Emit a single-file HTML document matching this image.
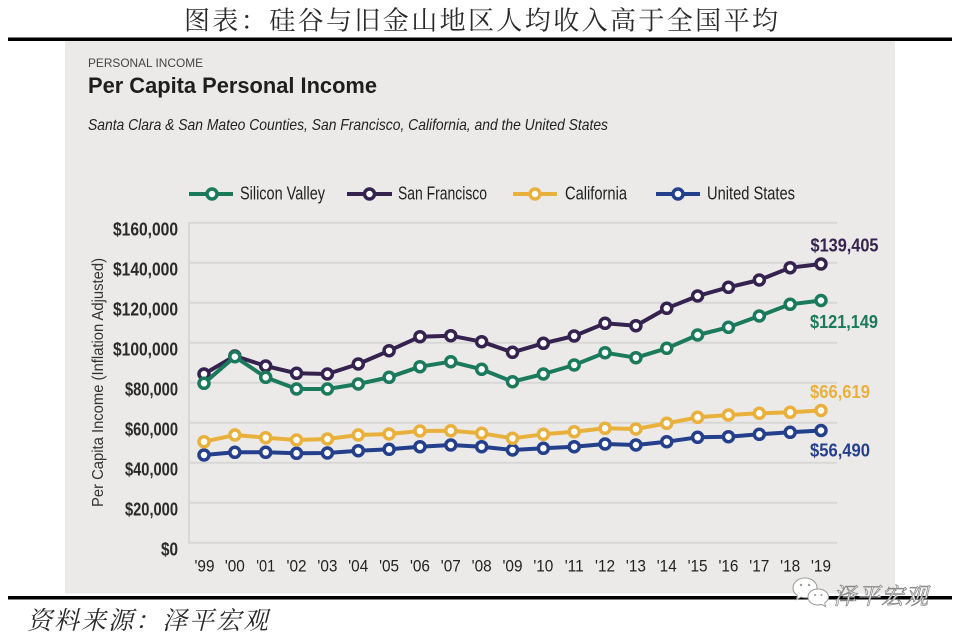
<!DOCTYPE html>
<html>
<head>
<meta charset="utf-8">
<style>
  html,body{margin:0;padding:0;background:#fff;}
  body{width:960px;height:636px;overflow:hidden;}
  svg{display:block;}
  .lat{font-family:"Liberation Sans",sans-serif;}
  .cjk{font-family:"Liberation Serif","Noto Serif CJK SC",serif;}
</style>
</head>
<body>
<svg width="960" height="636" viewBox="0 0 960 636" xmlns="http://www.w3.org/2000/svg">
  <rect x="0" y="0" width="960" height="636" fill="#ffffff"/>

  <!-- Chinese title -->
  <text class="cjk" x="184" y="29.5" font-size="26" fill="#2a2a2a" textLength="594" lengthAdjust="spacing">图表：硅谷与旧金山地区人均收入高于全国平均</text>

  <!-- top thick rule -->
  <rect x="8" y="37.5" width="944" height="3.5" fill="#000"/>

  <!-- gray panel -->
  <rect x="65" y="41" width="830" height="552.5" fill="#ebeae9"/>

  <!-- header texts -->
  <text class="lat" x="88" y="67" font-size="12" fill="#444" textLength="115" lengthAdjust="spacingAndGlyphs">PERSONAL INCOME</text>
  <text class="lat" x="88" y="93" font-size="22" font-weight="bold" fill="#1e1e1e" textLength="289" lengthAdjust="spacingAndGlyphs">Per Capita Personal Income</text>
  <text class="lat" x="88" y="130" font-size="16" font-style="italic" fill="#222" textLength="520" lengthAdjust="spacingAndGlyphs">Santa Clara &amp; San Mateo Counties, San Francisco, California, and the United States</text>

  <!-- legend -->
  <g stroke-width="4">
    <line x1="189" y1="194" x2="233" y2="194" stroke="#1b7a5c"/>
    <circle cx="212" cy="194" r="5" fill="#fff" stroke="#1b7a5c" stroke-width="3.5"/>
    <line x1="347" y1="194" x2="392" y2="194" stroke="#35224f"/>
    <circle cx="369.5" cy="194" r="5" fill="#fff" stroke="#35224f" stroke-width="3.5"/>
    <line x1="513" y1="194" x2="557" y2="194" stroke="#eab03c"/>
    <circle cx="535" cy="194" r="5" fill="#fff" stroke="#eab03c" stroke-width="3.5"/>
    <line x1="656" y1="194" x2="700" y2="194" stroke="#243f8c"/>
    <circle cx="678" cy="194" r="5" fill="#fff" stroke="#243f8c" stroke-width="3.5"/>
  </g>
  <g class="lat" font-size="18.5" fill="#222">
    <text x="240" y="199.5" textLength="85" lengthAdjust="spacingAndGlyphs">Silicon Valley</text>
    <text x="398" y="199.5" textLength="89" lengthAdjust="spacingAndGlyphs">San Francisco</text>
    <text x="565" y="199.5" textLength="62" lengthAdjust="spacingAndGlyphs">California</text>
    <text x="707" y="199.5" textLength="88" lengthAdjust="spacingAndGlyphs">United States</text>
  </g>

  <!-- gridlines -->
  <g stroke="#d8d7d5" stroke-width="2">
    <line x1="189" y1="222.7" x2="837" y2="222.7"/>
    <line x1="189" y1="262.7" x2="837" y2="262.7"/>
    <line x1="189" y1="302.7" x2="837" y2="302.7"/>
    <line x1="189" y1="342.7" x2="837" y2="342.7"/>
    <line x1="189" y1="382.7" x2="837" y2="382.7"/>
    <line x1="189" y1="422.7" x2="837" y2="422.7"/>
    <line x1="189" y1="462.7" x2="837" y2="462.7"/>
    <line x1="189" y1="502.7" x2="837" y2="502.7"/>
    <line x1="189" y1="542.7" x2="837" y2="542.7"/>
    <line x1="189" y1="222" x2="189" y2="543.5"/>
  </g>

  <!-- y labels -->
  <g class="lat" font-size="18" font-weight="bold" fill="#2a2a2a">
    <text x="113" y="235.7" textLength="65" lengthAdjust="spacingAndGlyphs">$160,000</text>
    <text x="113" y="275.7" textLength="65" lengthAdjust="spacingAndGlyphs">$140,000</text>
    <text x="113" y="315.7" textLength="65" lengthAdjust="spacingAndGlyphs">$120,000</text>
    <text x="113" y="355.7" textLength="65" lengthAdjust="spacingAndGlyphs">$100,000</text>
    <text x="125" y="395.7" textLength="53" lengthAdjust="spacingAndGlyphs">$80,000</text>
    <text x="125" y="435.7" textLength="53" lengthAdjust="spacingAndGlyphs">$60,000</text>
    <text x="125" y="475.7" textLength="53" lengthAdjust="spacingAndGlyphs">$40,000</text>
    <text x="125" y="515.7" textLength="53" lengthAdjust="spacingAndGlyphs">$20,000</text>
    <text x="161" y="555.7" textLength="17" lengthAdjust="spacingAndGlyphs">$0</text>
  </g>

  <!-- y axis title -->
  <text class="lat" transform="translate(103,382.5) rotate(-90)" x="-124.5" y="0" font-size="15.5" fill="#333" textLength="249" lengthAdjust="spacingAndGlyphs">Per Capita Income (Inflation Adjusted)</text>

  <!-- x labels -->
  <g class="lat" font-size="17" fill="#222">
    <text x="194.5" y="571.5" textLength="20" lengthAdjust="spacingAndGlyphs">'99</text>
    <text x="224.85" y="571.5" textLength="20" lengthAdjust="spacingAndGlyphs">'00</text>
    <text x="256.2" y="571.5" textLength="19" lengthAdjust="spacingAndGlyphs">'01</text>
    <text x="286.55" y="571.5" textLength="20" lengthAdjust="spacingAndGlyphs">'02</text>
    <text x="317.4" y="571.5" textLength="20" lengthAdjust="spacingAndGlyphs">'03</text>
    <text x="348.25" y="571.5" textLength="20" lengthAdjust="spacingAndGlyphs">'04</text>
    <text x="379.1" y="571.5" textLength="20" lengthAdjust="spacingAndGlyphs">'05</text>
    <text x="409.95" y="571.5" textLength="20" lengthAdjust="spacingAndGlyphs">'06</text>
    <text x="440.8" y="571.5" textLength="20" lengthAdjust="spacingAndGlyphs">'07</text>
    <text x="471.65" y="571.5" textLength="20" lengthAdjust="spacingAndGlyphs">'08</text>
    <text x="502.5" y="571.5" textLength="20" lengthAdjust="spacingAndGlyphs">'09</text>
    <text x="533.35" y="571.5" textLength="20" lengthAdjust="spacingAndGlyphs">'10</text>
    <text x="564.7" y="571.5" textLength="19" lengthAdjust="spacingAndGlyphs">'11</text>
    <text x="595.05" y="571.5" textLength="20" lengthAdjust="spacingAndGlyphs">'12</text>
    <text x="625.9" y="571.5" textLength="20" lengthAdjust="spacingAndGlyphs">'13</text>
    <text x="656.75" y="571.5" textLength="20" lengthAdjust="spacingAndGlyphs">'14</text>
    <text x="687.6" y="571.5" textLength="20" lengthAdjust="spacingAndGlyphs">'15</text>
    <text x="718.45" y="571.5" textLength="20" lengthAdjust="spacingAndGlyphs">'16</text>
    <text x="749.3" y="571.5" textLength="20" lengthAdjust="spacingAndGlyphs">'17</text>
    <text x="780.15" y="571.5" textLength="20" lengthAdjust="spacingAndGlyphs">'18</text>
    <text x="811" y="571.5" textLength="20" lengthAdjust="spacingAndGlyphs">'19</text>
  </g>

  <!-- United States -->
  <g fill="#fff" stroke="#243f8c">
    <polyline fill="none" stroke-width="4" stroke-linejoin="round" points="204,455 234.85,452.3 265.7,452.3 296.55,453.3 327.4,453 358.25,450.7 389.1,449.3 419.95,446.7 450.8,445 481.65,446.7 512.5,450 543.35,448.3 574.2,446.7 605.05,444 635.9,445 666.75,441.7 697.6,437.3 728.45,436.7 759.3,434.3 790.15,432.3 821,430.5"/>
    <g stroke-width="3.5">
      <circle cx="204" cy="455" r="5"/><circle cx="234.85" cy="452.3" r="5"/><circle cx="265.7" cy="452.3" r="5"/><circle cx="296.55" cy="453.3" r="5"/><circle cx="327.4" cy="453" r="5"/><circle cx="358.25" cy="450.7" r="5"/><circle cx="389.1" cy="449.3" r="5"/><circle cx="419.95" cy="446.7" r="5"/><circle cx="450.8" cy="445" r="5"/><circle cx="481.65" cy="446.7" r="5"/><circle cx="512.5" cy="450" r="5"/><circle cx="543.35" cy="448.3" r="5"/><circle cx="574.2" cy="446.7" r="5"/><circle cx="605.05" cy="444" r="5"/><circle cx="635.9" cy="445" r="5"/><circle cx="666.75" cy="441.7" r="5"/><circle cx="697.6" cy="437.3" r="5"/><circle cx="728.45" cy="436.7" r="5"/><circle cx="759.3" cy="434.3" r="5"/><circle cx="790.15" cy="432.3" r="5"/><circle cx="821" cy="430.5" r="5"/>
    </g>
  </g>

  <!-- California -->
  <g fill="#fff" stroke="#eab03c">
    <polyline fill="none" stroke-width="4" stroke-linejoin="round" points="204,441.7 234.85,435 265.7,437.7 296.55,440 327.4,439 358.25,435 389.1,434 419.95,431 450.8,430.7 481.65,433.3 512.5,438.3 543.35,434.3 574.2,431.7 605.05,428.3 635.9,429 666.75,423.3 697.6,417.3 728.45,415 759.3,413.3 790.15,412.3 821,410.5"/>
    <g stroke-width="3.5">
      <circle cx="204" cy="441.7" r="5"/><circle cx="234.85" cy="435" r="5"/><circle cx="265.7" cy="437.7" r="5"/><circle cx="296.55" cy="440" r="5"/><circle cx="327.4" cy="439" r="5"/><circle cx="358.25" cy="435" r="5"/><circle cx="389.1" cy="434" r="5"/><circle cx="419.95" cy="431" r="5"/><circle cx="450.8" cy="430.7" r="5"/><circle cx="481.65" cy="433.3" r="5"/><circle cx="512.5" cy="438.3" r="5"/><circle cx="543.35" cy="434.3" r="5"/><circle cx="574.2" cy="431.7" r="5"/><circle cx="605.05" cy="428.3" r="5"/><circle cx="635.9" cy="429" r="5"/><circle cx="666.75" cy="423.3" r="5"/><circle cx="697.6" cy="417.3" r="5"/><circle cx="728.45" cy="415" r="5"/><circle cx="759.3" cy="413.3" r="5"/><circle cx="790.15" cy="412.3" r="5"/><circle cx="821" cy="410.5" r="5"/>
    </g>
  </g>

  <!-- San Francisco -->
  <g fill="#fff" stroke="#35224f">
    <polyline fill="none" stroke-width="4" stroke-linejoin="round" points="204,374 234.85,356 265.7,366 296.55,373.3 327.4,374 358.25,364 389.1,350.7 419.95,336.7 450.8,335.7 481.65,341.7 512.5,352.3 543.35,343.3 574.2,336 605.05,323.3 635.9,325.7 666.75,308.3 697.6,296 728.45,287.3 759.3,280 790.15,267.7 821,264"/>
    <g stroke-width="3.5">
      <circle cx="204" cy="374" r="5"/><circle cx="234.85" cy="356" r="5"/><circle cx="265.7" cy="366" r="5"/><circle cx="296.55" cy="373.3" r="5"/><circle cx="327.4" cy="374" r="5"/><circle cx="358.25" cy="364" r="5"/><circle cx="389.1" cy="350.7" r="5"/><circle cx="419.95" cy="336.7" r="5"/><circle cx="450.8" cy="335.7" r="5"/><circle cx="481.65" cy="341.7" r="5"/><circle cx="512.5" cy="352.3" r="5"/><circle cx="543.35" cy="343.3" r="5"/><circle cx="574.2" cy="336" r="5"/><circle cx="605.05" cy="323.3" r="5"/><circle cx="635.9" cy="325.7" r="5"/><circle cx="666.75" cy="308.3" r="5"/><circle cx="697.6" cy="296" r="5"/><circle cx="728.45" cy="287.3" r="5"/><circle cx="759.3" cy="280" r="5"/><circle cx="790.15" cy="267.7" r="5"/><circle cx="821" cy="264" r="5"/>
    </g>
  </g>

  <!-- Silicon Valley -->
  <g fill="#fff" stroke="#1b7a5c">
    <polyline fill="none" stroke-width="4" stroke-linejoin="round" points="204,383.3 234.85,356.7 265.7,377.3 296.55,389 327.4,389 358.25,384 389.1,377.3 419.95,366.7 450.8,361.7 481.65,369.3 512.5,381.7 543.35,374 574.2,365 605.05,352.7 635.9,357.7 666.75,348.3 697.6,335 728.45,327.3 759.3,316 790.15,304.3 821,300.5"/>
    <g stroke-width="3.5">
      <circle cx="204" cy="383.3" r="5"/><circle cx="234.85" cy="356.7" r="5"/><circle cx="265.7" cy="377.3" r="5"/><circle cx="296.55" cy="389" r="5"/><circle cx="327.4" cy="389" r="5"/><circle cx="358.25" cy="384" r="5"/><circle cx="389.1" cy="377.3" r="5"/><circle cx="419.95" cy="366.7" r="5"/><circle cx="450.8" cy="361.7" r="5"/><circle cx="481.65" cy="369.3" r="5"/><circle cx="512.5" cy="381.7" r="5"/><circle cx="543.35" cy="374" r="5"/><circle cx="574.2" cy="365" r="5"/><circle cx="605.05" cy="352.7" r="5"/><circle cx="635.9" cy="357.7" r="5"/><circle cx="666.75" cy="348.3" r="5"/><circle cx="697.6" cy="335" r="5"/><circle cx="728.45" cy="327.3" r="5"/><circle cx="759.3" cy="316" r="5"/><circle cx="790.15" cy="304.3" r="5"/><circle cx="821" cy="300.5" r="5"/>
    </g>
  </g>

  <!-- end value labels -->
  <g class="lat" font-size="18" font-weight="bold">
    <text x="810.5" y="251.5" fill="#35224f" textLength="68" lengthAdjust="spacingAndGlyphs">$139,405</text>
    <text x="810" y="328" fill="#1b7a5c" textLength="68" lengthAdjust="spacingAndGlyphs">$121,149</text>
    <text x="810" y="398" fill="#eab03c" textLength="60" lengthAdjust="spacingAndGlyphs">$66,619</text>
    <text x="810" y="456.5" fill="#243f8c" textLength="60" lengthAdjust="spacingAndGlyphs">$56,490</text>
  </g>

  <!-- bottom thick rule -->
  <rect x="8" y="596" width="944" height="3.5" fill="#000"/>

  <!-- watermark -->
  <g stroke="#9a9a9a" stroke-width="1" fill="#fff">
    <path d="M805,578 C797.5,578 793,583 793,588 C793,591.5 795,594 797.5,595.5 L796.5,599.5 L801,597 C802.5,597.5 804,597.8 805.5,597.8 C813,597.8 817,593 817,588 C817,583 812.5,578 805,578 Z"/>
    <path d="M818,589 C811.5,589 808,593 808,597 C808,601 811.5,605 818,605 C819.3,605 820.5,604.8 821.6,604.4 L825.5,606.5 L824.7,603 C827,601.5 828.5,599.5 828.5,597 C828.5,593 824.5,589 818,589 Z"/>
  </g>
  <g fill="#9a9a9a">
    <circle cx="801" cy="585" r="1.2"/><circle cx="809" cy="585" r="1.2"/>
    <circle cx="815" cy="595" r="1"/><circle cx="821.5" cy="595" r="1"/>
  </g>
  <text class="cjk" x="833" y="604" font-size="23" fill="#fff" stroke="#8a8a8a" stroke-width="0.8" textLength="95" lengthAdjust="spacing" font-style="italic">泽平宏观</text>

  <!-- source -->
  <text class="cjk" x="27" y="629" font-size="25" font-style="italic" fill="#2a2a2a" textLength="241" lengthAdjust="spacing">资料来源：泽平宏观</text>
</svg>
</body>
</html>
